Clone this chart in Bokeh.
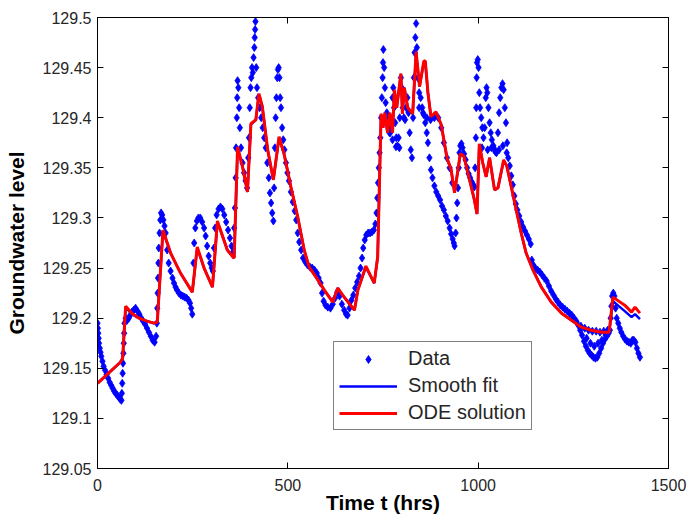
from bokeh.plotting import figure
from bokeh.models import LinearAxis, FixedTicker, Legend, LegendItem, CustomLabelingPolicy
from bokeh.embed import file_html
from bokeh.resources import INLINE

# ---- data ----
data_t = [0, 1, 2, 3, 4, 6, 8, 10, 13, 16, 20, 24, 28, 32, 36, 40, 44, 48, 52, 56, 60, 63,
          64, 65, 66, 67, 68, 69, 70, 71,
          74, 78, 82, 86, 90, 95, 100, 105, 110, 115, 120, 125, 130, 135, 140, 145, 150, 154,
          156, 157, 158, 159, 160, 161, 163, 165, 167, 170, 173, 176, 179, 183, 187, 192, 197,
          201, 205, 209, 214, 219, 224, 229, 234, 239, 243, 246, 249,
          252, 254, 257, 261, 265, 270, 275, 280, 284, 288, 292, 296, 300, 303,
          306, 309, 313, 318, 323, 328, 333, 338, 343, 348, 352, 356,
          359, 361, 363, 364, 366, 367, 368, 370, 372, 374, 377, 381, 385, 389, 393,
          396, 398, 400, 402, 404, 406, 408, 410, 412, 413, 414, 415, 417, 419, 422, 426, 430,
          434, 438, 442, 446, 450, 453, 456, 459, 462,
          464, 466, 468, 470, 472, 474, 476, 478, 480, 482, 485, 488, 491, 495, 499, 503, 508,
          513, 518, 522, 526, 530, 535, 540, 546, 552, 558, 564, 570, 576, 581, 586, 590, 594,
          599, 605, 612, 618, 624, 630, 636, 642, 648, 653, 657, 662, 667, 672, 677, 682, 687,
          691, 695, 698, 702, 706, 711, 716, 721, 726, 730, 733, 735, 737, 739, 741,
          743, 745, 747, 749, 750, 751, 753, 755, 757, 760, 763, 766, 769, 772, 775, 777, 779,
          782, 785, 788, 791, 794, 797, 799, 802, 805, 808, 811, 814, 817, 820, 823, 826,
          767, 775, 784, 793,
          829, 831, 833, 835, 837, 839, 841, 845, 849, 853, 857, 861, 865, 868, 872, 876, 880,
          885, 890, 895, 900, 905, 910, 915, 920, 925, 929, 933, 936, 938,
          845, 855, 865, 875, 885, 895, 903, 910, 918, 925, 932,
          941, 943, 945, 947, 949, 951, 953, 956, 959, 963, 967, 971, 975, 979, 983, 987, 990,
          992, 994, 995, 996, 997, 999, 1001, 1003, 1005, 1008, 1011, 1014, 1017, 1020, 1022,
          1024, 1027, 1030, 1033, 1036, 1040, 1044, 1048, 1052, 1055, 1058, 1061, 1064, 1067,
          1070, 1073, 1076, 1079,
          1010, 1025, 1035, 1045, 1055, 1065, 1075,
          1083, 1087, 1091, 1095, 1099, 1103, 1108, 1113, 1118, 1123, 1128, 1133, 1138,
          1141, 1145, 1150, 1156, 1162, 1168, 1174, 1180, 1186, 1192, 1198, 1204, 1210, 1216,
          1222, 1228, 1234, 1240, 1246, 1252, 1258, 1263, 1268, 1273, 1278, 1283, 1288, 1293,
          1298, 1303, 1308, 1313, 1318, 1323, 1328, 1333, 1338, 1343, 1346,
          1270, 1280, 1290, 1300, 1310, 1320, 1330, 1340,
          1285, 1295, 1305, 1315, 1325, 1335,
          1348, 1350, 1352, 1355, 1358, 1361, 1364, 1368, 1372, 1376, 1381, 1386, 1391, 1396,
          1401, 1405, 1409, 1413, 1417, 1421, 1425]
data_y = [129.195, 129.19, 129.185, 129.18, 129.175, 129.17, 129.166, 129.162, 129.157, 129.152,
          129.148, 129.144, 129.14, 129.136, 129.133, 129.13, 129.127, 129.125, 129.123, 129.121,
          129.119, 129.118,
          129.125, 129.135, 129.145, 129.155, 129.165, 129.175, 129.185, 129.195,
          129.2, 129.198, 129.2, 129.203, 129.206, 129.208, 129.21, 129.207, 129.204, 129.2,
          129.197, 129.194, 129.19, 129.186, 129.182, 129.178, 129.176, 129.182,
          129.195, 129.21, 129.225, 129.24, 129.255, 129.27, 129.285, 129.298, 129.305, 129.303,
          129.298, 129.292, 129.285, 129.268, 129.255, 129.247, 129.24,
          129.235, 129.231, 129.228, 129.225, 129.223, 129.222, 129.221, 129.22, 129.218,
          129.215, 129.21, 129.204,
          129.255, 129.275, 129.29, 129.297, 129.3, 129.3, 129.296, 129.29, 129.282, 129.272,
          129.262, 129.255, 129.25, 129.247,
          129.27, 129.29, 129.303, 129.309, 129.311, 129.309, 129.303, 129.296, 129.288, 129.28,
          129.272, 129.266,
          129.29, 129.31, 129.34, 129.37, 129.4, 129.42, 129.437, 129.43, 129.41, 129.39, 129.37,
          129.355, 129.345, 129.337, 129.33,
          129.36, 129.38, 129.41, 129.43, 129.44, 129.45, 129.445, 129.46, 129.47, 129.48,
          129.488, 129.496, 129.45, 129.43, 129.42, 129.41, 129.4,
          129.39, 129.38, 129.37, 129.355, 129.34, 129.325, 129.315, 129.305, 129.297,
          129.33, 129.37, 129.4, 129.42, 129.44, 129.448, 129.45, 129.44, 129.42, 129.41, 129.39,
          129.378, 129.368, 129.355, 129.345, 129.337, 129.326,
          129.316, 129.307, 129.298, 129.285, 129.276, 129.268, 129.26, 129.256, 129.253,
          129.251, 129.25, 129.248, 129.245, 129.24, 129.235, 129.225, 129.217,
          129.213, 129.211, 129.21, 129.214, 129.22, 129.226, 129.222, 129.214, 129.208, 129.204,
          129.203, 129.21, 129.218, 129.223, 129.23, 129.236, 129.242,
          129.25, 129.26, 129.27, 129.278, 129.283, 129.285, 129.285, 129.286, 129.288, 129.294,
          129.305, 129.32, 129.335, 129.35, 129.365,
          129.38, 129.4, 129.42, 129.44, 129.455, 129.468, 129.45, 129.43, 129.415, 129.405,
          129.398, 129.39, 129.385, 129.395, 129.42, 129.43, 129.41,
          129.395, 129.38, 129.372, 129.38, 129.4, 129.44, 129.43, 129.41, 129.4, 129.398, 129.41,
          129.42, 129.405, 129.385, 129.368, 129.36,
          129.385, 129.378, 129.371, 129.37,
          129.4, 129.44, 129.465, 129.48, 129.494, 129.47, 129.44, 129.425, 129.42, 129.41,
          129.403, 129.395, 129.385, 129.375, 129.36, 129.348, 129.34,
          129.332, 129.326, 129.322, 129.318, 129.312, 129.308, 129.302, 129.297, 129.29, 129.284,
          129.279, 129.275, 129.272,
          129.41, 129.405, 129.4, 129.398, 129.4, 129.4, 129.39, 129.375, 129.36, 129.35, 129.335,
          129.285, 129.3, 129.315, 129.33, 129.35, 129.365, 129.372, 129.374, 129.37, 129.364,
          129.358, 129.35, 129.344, 129.34, 129.336, 129.333, 129.331,
          129.35, 129.38, 129.41, 129.44, 129.455, 129.458, 129.45, 129.425, 129.41, 129.4,
          129.39, 129.38, 129.39, 129.42, 129.43,
          129.425, 129.41, 129.395, 129.385, 129.378, 129.372, 129.368, 129.365, 129.385, 129.405,
          129.42, 129.43, 129.434, 129.428,
          129.41, 129.395, 129.375, 129.36,
          129.37, 129.368, 129.37, 129.366, 129.368, 129.372, 129.365,
          129.352, 129.342, 129.333, 129.322, 129.314, 129.308, 129.302, 129.296, 129.291,
          129.287, 129.283, 129.279, 129.274,
          129.258, 129.253, 129.25, 129.248, 129.246, 129.243, 129.24, 129.237, 129.232, 129.227,
          129.223, 129.219, 129.216, 129.213,
          129.211, 129.209, 129.207, 129.205, 129.203, 129.2, 129.197, 129.193, 129.188, 129.183,
          129.177, 129.172, 129.168, 129.165,
          129.163, 129.161, 129.16, 129.161, 129.165, 129.17, 129.175, 129.179, 129.182, 129.185,
          129.188,
          129.192, 129.19, 129.188, 129.187, 129.187, 129.186, 129.187, 129.188,
          129.18, 129.175, 129.172, 129.175, 129.178, 129.183,
          129.2, 129.212, 129.222, 129.225, 129.222, 129.21, 129.2, 129.195, 129.19, 129.186,
          129.182, 129.179, 129.177, 129.176,
          129.175, 129.178, 129.178, 129.176, 129.17, 129.165, 129.161]

ode_t = [0, 60, 66, 74, 90, 109, 130, 148, 157, 172, 192, 218, 249, 262, 280, 302, 315, 332,
         341, 356, 359, 368, 381, 394, 403, 416, 424, 433, 447, 462, 477, 490, 508, 526, 543,
         556, 574, 596, 618, 631, 648, 675, 684, 705, 727, 736, 745, 750, 755, 762, 768, 775,
         780, 786, 797, 801, 806, 815, 828, 837, 846, 857, 861, 868, 876, 889, 903, 918, 929,
         938, 953, 962, 975, 990, 997, 1003, 1012, 1021, 1030, 1043, 1052, 1067, 1075, 1087,
         1100, 1113, 1126, 1144, 1166, 1192, 1219, 1245, 1271, 1297, 1324, 1344, 1354, 1385,
         1403, 1412, 1425]
ode_y = [129.135, 129.156, 129.16, 129.212, 129.205, 129.2, 129.197, 129.195, 129.196, 129.288,
         129.265, 129.245, 129.226, 129.271, 129.25, 129.231, 129.297, 129.278, 129.268, 129.261,
         129.26, 129.371, 129.351, 129.326, 129.394, 129.398, 129.424, 129.411, 129.368, 129.338,
         129.381, 129.364, 129.331, 129.301, 129.268, 129.251, 129.241, 129.228, 129.216, 129.23,
         129.221, 129.208, 129.228, 129.252, 129.235, 129.261, 129.404, 129.39, 129.405, 129.385,
         129.405, 129.385, 129.428, 129.41, 129.444, 129.404, 129.43, 129.41, 129.404, 129.466,
         129.431, 129.456, 129.457, 129.425, 129.401, 129.406, 129.393, 129.36, 129.348, 129.325,
         129.364, 129.362, 129.342, 129.318, 129.304, 129.374, 129.355, 129.341, 129.36, 129.328,
         129.33, 129.358, 129.352, 129.331, 129.308, 129.285, 129.265, 129.248, 129.231, 129.216,
         129.205, 129.198, 129.191, 129.188, 129.186, 129.186, 129.221, 129.213, 129.206, 129.211,
         129.205]

fit_t = [0, 60, 66, 74, 90, 109, 130, 148, 157, 172, 192, 218, 249, 262, 280, 302, 315, 332,
         341, 356, 359, 368, 381, 394, 403, 416, 424, 433, 447, 462, 477, 490, 508, 526, 543,
         556, 574, 596, 618, 631, 648, 675, 684, 705, 727, 736, 745, 750, 755, 762, 768, 775,
         780, 786, 797, 801, 806, 815, 828, 837, 846, 857, 861, 868, 876, 889, 903, 918, 929,
         938, 953, 962, 975, 990, 997, 1003, 1012, 1021, 1030, 1043, 1052, 1067, 1075, 1087,
         1100, 1113, 1126, 1144, 1166, 1192, 1219, 1245, 1271, 1297, 1324, 1344, 1354, 1385,
         1403, 1412, 1425]
fit_y = [129.135, 129.156, 129.16, 129.211, 129.204, 129.2, 129.197, 129.195, 129.196, 129.287,
         129.265, 129.245, 129.226, 129.27, 129.25, 129.231, 129.296, 129.278, 129.268, 129.261,
         129.26, 129.37, 129.351, 129.326, 129.393, 129.398, 129.423, 129.411, 129.368, 129.338,
         129.38, 129.364, 129.331, 129.301, 129.268, 129.251, 129.241, 129.228, 129.216, 129.23,
         129.221, 129.208, 129.228, 129.251, 129.235, 129.261, 129.403, 129.39, 129.404, 129.385,
         129.404, 129.385, 129.427, 129.41, 129.443, 129.404, 129.43, 129.41, 129.404, 129.465,
         129.431, 129.455, 129.456, 129.425, 129.401, 129.405, 129.393, 129.36, 129.348, 129.325,
         129.363, 129.362, 129.342, 129.318, 129.304, 129.373, 129.355, 129.341, 129.36, 129.328,
         129.33, 129.357, 129.352, 129.331, 129.308, 129.285, 129.265, 129.248, 129.231, 129.216,
         129.205, 129.198, 129.191, 129.188, 129.186, 129.185, 129.217, 129.207, 129.201, 129.204,
         129.199]

x_ticks = [0, 500, 1000, 1500]
y_ticks = [129.05, 129.1, 129.15, 129.2, 129.25, 129.3, 129.35, 129.4, 129.45, 129.5]
y_tick_labels = ["129.05", "129.1", "129.15", "129.2", "129.25", "129.3", "129.35",
                 "129.4", "129.45", "129.5"]

FONT = "Liberation Sans"

p = figure(width=688, height=521, x_range=(0, 1500), y_range=(129.05, 129.5),
           output_backend="svg", toolbar_location=None,
           min_border_left=97, min_border_right=20, min_border_top=17, min_border_bottom=53)
p.grid.visible = False
p.outline_line_color = "black"
p.outline_line_width = 1
p.background_fill_color = "white"
p.border_fill_color = "white"

r_data = p.scatter(data_t, data_y, marker="diamond", size=8, fill_color="#0000ff",
                   line_color="#0000ff", line_width=0.8)
r_fit = p.line(fit_t, fit_y, line_color="#0000ff", line_width=2.5)
r_ode = p.line(ode_t, ode_y, line_color="#ff0000", line_width=3)

for ax in (p.xaxis[0], p.yaxis[0]):
    ax.major_tick_in = 6
    ax.major_tick_out = 0
    ax.minor_tick_in = 0
    ax.minor_tick_out = 0
    ax.axis_line_color = "black"
    ax.major_label_text_font = FONT
    ax.major_label_text_font_size = "16px"
    ax.major_label_text_color = "#262626"
    ax.axis_label_text_font = FONT
    ax.axis_label_text_font_size = "21px"
    ax.axis_label_text_font_style = "bold"
    ax.axis_label_text_color = "black"

p.xaxis[0].ticker = FixedTicker(ticks=x_ticks)
p.yaxis[0].ticker = FixedTicker(ticks=y_ticks)
p.yaxis[0].major_label_overrides = {v: s for v, s in zip(y_ticks, y_tick_labels)}
p.xaxis[0].axis_label = "Time t (hrs)"
p.yaxis[0].axis_label = "Groundwater level"
p.xaxis[0].major_label_standoff = 10
p.xaxis[0].axis_label_standoff = -3
p.yaxis[0].major_label_standoff = 6
p.yaxis[0].axis_label_standoff = 12

top_ax = LinearAxis(ticker=FixedTicker(ticks=x_ticks), major_tick_in=6, major_tick_out=0,
                    minor_tick_in=0, minor_tick_out=0,
                    major_label_policy=CustomLabelingPolicy(code="return new Set()"),
                    major_label_text_font_size="1px", major_label_standoff=0)
right_ax = LinearAxis(ticker=FixedTicker(ticks=y_ticks), major_tick_in=6, major_tick_out=0,
                      minor_tick_in=0, minor_tick_out=0,
                      major_label_policy=CustomLabelingPolicy(code="return new Set()"),
                      major_label_text_font_size="1px", major_label_standoff=0)
p.add_layout(top_ax, "above")
p.add_layout(right_ax, "right")

legend = Legend(items=[LegendItem(label="Data", renderers=[r_data]),
                       LegendItem(label="Smooth fit", renderers=[r_fit]),
                       LegendItem(label="ODE solution", renderers=[r_ode])],
                location=(236, 38), margin=0, padding=5, spacing=4,
                glyph_width=58, glyph_height=20, label_height=20, label_standoff=11,
                label_text_font=FONT, label_text_font_size="20px", label_text_color="#262626",
                border_line_color="black", border_line_width=1, background_fill_alpha=1,
                background_fill_color="white")
p.add_layout(legend, "center")

open("out.html", "w").write(file_html(p, INLINE))
